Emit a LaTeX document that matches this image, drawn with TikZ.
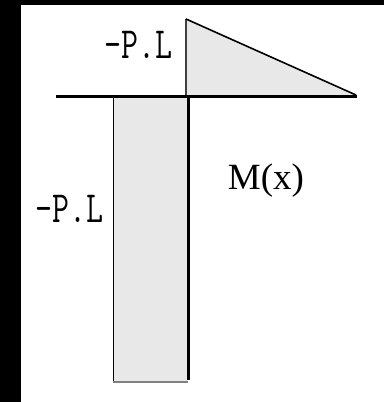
\documentclass[tikz,border=0pt]{standalone}
\usepackage{fontspec}
\newfontfamily\serf{Liberation Serif}
\definecolor{lg}{RGB}{232,232,232}
\definecolor{mg}{RGB}{128,128,128}
\tikzset{
  pl/.style={inner sep=0pt, anchor=base, font=\ttfamily\fontsize{33}{33}\selectfont},
  mx/.style={inner sep=0pt, anchor=base, font=\serf\fontsize{37}{37}\selectfont},
}
\begin{document}
\begin{tikzpicture}[x=1pt,y=-1pt]
\fill[black] (0,0) rectangle (384,402);
\useasboundingbox (0,0) rectangle (384,402);
\fill[white] (21,5) rectangle (384,402);
% moment diagram: triangle above beam
\coordinate (T) at (186,19);
\coordinate (R) at (356,95);
\coordinate (B) at (186,95);
\fill[lg] (T) -- (R) -- (B) -- cycle;
\draw[line width=1.6pt, black!75] (T) -- (B);
\draw[line width=1.6pt] (T) -- (R);
% rectangle below beam
\coordinate (RL) at (113,97);
\coordinate (RR) at (188,381);
\fill[lg] (RL) rectangle (RR);
\draw[line width=1pt] (113.5,97) -- (113.5,381);
\draw[mg, line width=2.2pt] (113,382) -- (188,382);
\draw[line width=3pt] (188,96) -- (188,380);
% beam
\coordinate (BL) at (56,96);
\coordinate (BR) at (357,96);
\draw[line width=3pt] (BL) -- (BR);
% labels
\node[pl] (l1) at (138.5,58) {\scalebox{1}[1.35]{-P.L}};
\node[pl] (l2) at (69.5,222) {\scalebox{1}[1.35]{-P.L}};
\node[mx] (l3) at (266,189) {M(x)};
\end{tikzpicture}
\end{document}
